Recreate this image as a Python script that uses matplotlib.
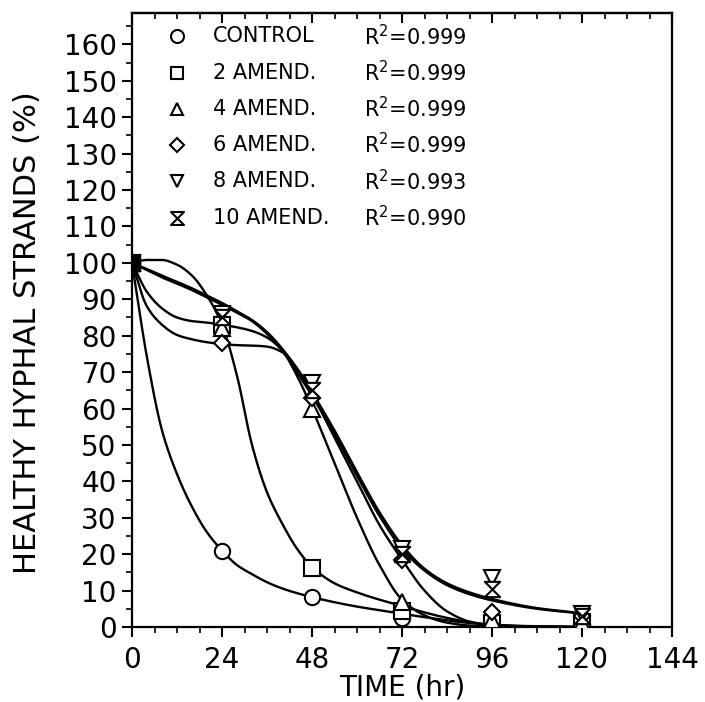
import numpy as np
import matplotlib
matplotlib.use('Agg')
import matplotlib.pyplot as plt
from matplotlib.path import Path
from matplotlib.ticker import MultipleLocator

plt.rcParams['font.family'] = ['DejaVu Sans']

# ---- observed data (hours, % healthy strands) ----
hours = [0, 24, 48, 72, 96, 120]
control = [100, 21, 8.3, 2.5, 0.5, 0.5]
amend2 = [100, 83, 16.2, 4.5, 1.0, 1.4]
amend4 = [100, 82, 60, 7, 2, 1]
amend6 = [100, 78, 63, 18.5, 4, 3]
amend8 = [100, 86, 67, 21.5, 13.5, 3.5]
amend10 = [100, 85, 65, 20, 10.5, 3]

series_names = ['CONTROL', '2 AMEND.', '4 AMEND.', '6 AMEND.', '8 AMEND.', '10 AMEND.']
r2_values = ['0.999', '0.999', '0.999', '0.999', '0.993', '0.990']

# ---- fitted curves ----
fit_hours = [0, 4, 8, 12, 16, 20, 24, 28, 32, 36, 40, 44, 48, 54, 60, 66, 72, 78, 84, 90, 96, 108, 120]
fit_control = [100, 74, 54, 42, 33, 26, 21, 17, 14.5, 12.3, 10.6, 9.3, 8.2, 6.8, 5.6, 4.6, 3.6, 2.7, 1.8, 1.1, 0.6, 0.2, 0]
fit_amend2 = [100, 100.8, 100.8, 99.5, 96.5, 91, 83, 69, 50, 37, 28.5, 21.5, 16.5, 12, 9.5, 7.5, 5.8, 4, 2.5, 1.3, 0.6, 0.1, 0]
fit_amend4 = [100, 92, 87.5, 85, 84, 83.6, 83, 82.3, 81.3, 79.5, 76, 69, 60, 45, 30, 17, 7.5, 3.2, 1.2, 0.4, 0.2, 0, 0]
fit_amend6 = [100, 88, 83, 80.2, 79, 78.2, 77.7, 77.4, 77.3, 77, 75.5, 71, 64, 52, 40, 28, 18.5, 10, 4.3, 1.5, 0.5, 0.1, 0]
fit_amend8 = [100, 98.3, 96.5, 94.8, 93, 91, 89, 86.7, 84.3, 81, 76.5, 71, 64.5, 54, 42.5, 31.5, 22.5, 16, 12, 9.5, 7.7, 5.2, 3.8]
fit_amend10 = [100, 98, 96, 94.3, 92.5, 90.5, 88.5, 86.3, 84, 80.5, 76, 70, 63.5, 53, 41.5, 30.5, 21.5, 15.5, 11.5, 9, 7.3, 5, 3.7]


def pchip(x, y, xs):
    x = np.asarray(x, float)
    y = np.asarray(y, float)
    h = np.diff(x)
    delta = np.diff(y) / h
    d = np.zeros_like(y)
    for k in range(1, len(x) - 1):
        if delta[k - 1] * delta[k] > 0:
            w1 = 2 * h[k] + h[k - 1]
            w2 = h[k] + 2 * h[k - 1]
            d[k] = (w1 + w2) / (w1 / delta[k - 1] + w2 / delta[k])
    d[0] = delta[0]
    d[-1] = delta[-1]
    idx = np.clip(np.searchsorted(x, xs) - 1, 0, len(x) - 2)
    t = (xs - x[idx]) / h[idx]
    h00 = 2 * t**3 - 3 * t**2 + 1
    h10 = t**3 - 2 * t**2 + t
    h01 = -2 * t**3 + 3 * t**2
    h11 = t**3 - t**2
    return h00 * y[idx] + h10 * h[idx] * d[idx] + h01 * y[idx + 1] + h11 * h[idx] * d[idx + 1]


hourglass = Path([(-1, 1), (1, 1), (-1, -1), (1, -1), (-1, 1)],
                 [Path.MOVETO, Path.LINETO, Path.LINETO, Path.LINETO, Path.CLOSEPOLY])

markers = ['o', 's', '^', 'D', 'v', hourglass]
msizes = [11, 11, 11, 8.5, 11, 11]
data = [control, amend2, amend4, amend6, amend8, amend10]
fits = [fit_control, fit_amend2, fit_amend4, fit_amend6, fit_amend8, fit_amend10]

fig = plt.figure(figsize=(7.05, 7.02), dpi=100)
ax = fig.add_axes([132 / 705, 75 / 702, 540 / 705, 614.3 / 702])

xs = np.linspace(0, 120, 600)
for f in fits:
    ax.plot(xs, pchip(fit_hours, f, xs), color='black', lw=1.7, zorder=2)

for vals, m, ms in zip(data, markers, msizes):
    ax.plot(hours, vals, linestyle='none', marker=m, ms=ms, mfc='white',
            mec='black', mew=1.5, zorder=3)

# solid block at the common start point
ax.plot([hours[0]], [control[0]], linestyle='none', marker='s', ms=11,
        mfc='black', mec='black', zorder=4)

# legend drawn as text
for i, (name, r2, m, ms) in enumerate(zip(series_names, r2_values, markers, msizes)):
    yy = 162.2 - 9.95 * i
    ax.plot([12], [yy], linestyle='none', marker=m, ms=ms * 0.85, mfc='white',
            mec='black', mew=1.5, clip_on=False, zorder=5)
    ax.text(21.6, yy, name, fontsize=15, va='center', ha='left')
    ax.text(62.0, yy, 'R$^{2}$=' + r2, fontsize=15, va='center', ha='left')

ax.set_xlim(0, 144)
ax.set_ylim(0, 168.7)
ax.set_xticks(np.arange(0, 145, 24))
ax.xaxis.set_minor_locator(MultipleLocator(6))
ax.set_yticks(np.arange(0, 161, 10))
ax.yaxis.set_minor_locator(MultipleLocator(5))

ax.tick_params(axis='both', which='major', direction='out', length=7, width=1.5,
               labelsize=20, colors='black')
ax.tick_params(axis='both', which='minor', direction='out', length=4, width=1.2)
ax.tick_params(axis='x', which='both', top=False)
ax.tick_params(axis='x', which='major', pad=7)
ax.tick_params(axis='y', which='major', pad=4)

# inward ticks along the top edge
sec = ax.secondary_xaxis('top')
sec.set_xticks(np.arange(0, 145, 24))
sec.xaxis.set_minor_locator(MultipleLocator(6))
sec.tick_params(axis='x', which='major', direction='in', length=7, width=1.5, labeltop=False)
sec.tick_params(axis='x', which='minor', direction='in', length=4, width=1.2)
sec.spines['top'].set_linewidth(1.6)

for s in ax.spines.values():
    s.set_linewidth(1.6)

ax.set_xlabel('TIME (hr)', fontsize=20, va='center')
ax.xaxis.set_label_coords(0.5, -0.099)
ax.set_ylabel('HEALTHY HYPHAL STRANDS (%)', fontsize=22, va='center')
ax.yaxis.set_label_coords(-0.193, 0.48)

fig.savefig('out.png', dpi=100)
